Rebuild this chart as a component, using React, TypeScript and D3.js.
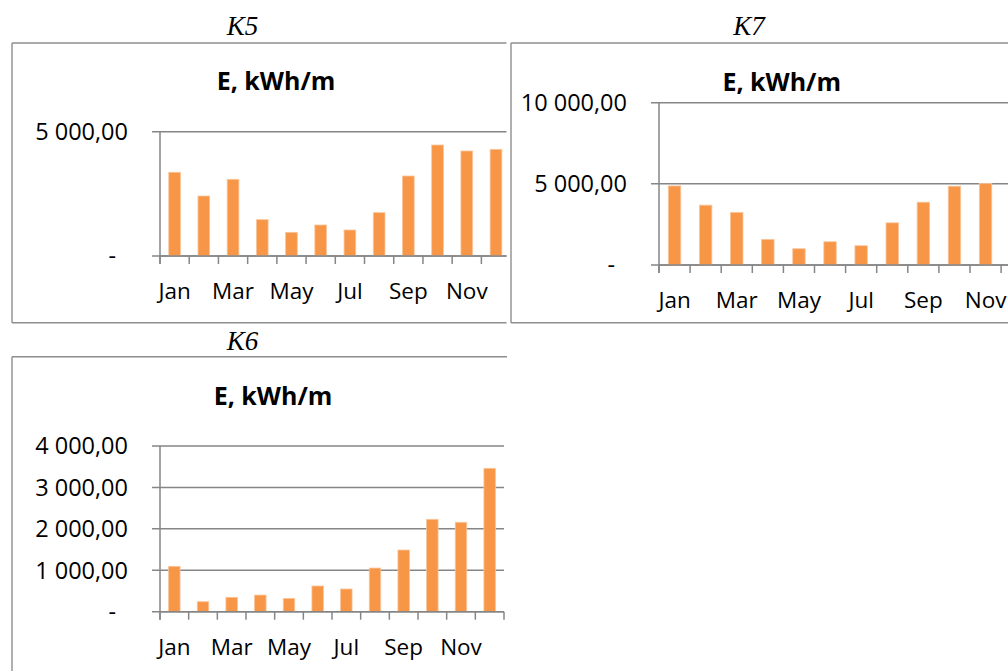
import React from "react";
import * as d3 from "d3";

// Monthly energy per metre for three sites
const months = ["Jan", "Feb", "Mar", "Apr", "May", "Jun", "Jul", "Aug", "Sep", "Oct", "Nov", "Dec"];
const k5Energy = [3367, 2413, 3085, 1461, 952, 1247, 1046, 1743, 3218, 4465, 4224, 4291];
const k7Energy = [4871, 3686, 3237, 1579, 1001, 1431, 1186, 2598, 3870, 4853, 5018, 5150];
const k6Energy = [1095, 241, 347, 402, 322, 620, 548, 1054, 1489, 2230, 2158, 3461];
const k5Ticks = [0, 5000];
const k7Ticks = [0, 5000, 10000];
const k6Ticks = [0, 1000, 2000, 3000, 4000];
const chartTitle = "E, kWh/m";

const BAR = "#F79646";
const BAR_EDGE = "#FBC49A";
const GRID = "#868686";
const FRAME = "#8E8E8E";
const SANS = "'Open Sans', 'Noto Sans', sans-serif";
const SERIF = "'Liberation Serif', 'DejaVu Serif', serif";

const locale = d3.formatLocale({ decimal: ",", thousands: "\u00a0", grouping: [3], currency: ["", ""] });
const fmt = locale.format(",.2f");

type PanelProps = {
  id: string;
  caption: string;
  values: number[];
  ticks: number[];
  frame: { x: number; y: number; right: number; bottom?: number };
  captionPos: { x: number; y: number };
  titlePos: { x: number; y: number };
  plot: { left: number; right: number; top: number; bottom: number };
  clipRight?: number;
};

function Panel(p: PanelProps) {
  const { plot } = p;
  const x = d3
    .scaleBand<string>()
    .domain(months)
    .range([plot.left, plot.right])
    .paddingInner(0.6)
    .paddingOuter(0.3);
  const step = x.step();
  const y = d3
    .scaleLinear()
    .domain([0, d3.max(p.ticks) as number])
    .range([plot.bottom, plot.top]);
  const clipId = `clip-${p.id}`;
  const labelX = plot.left - 32;
  const fb = p.frame.bottom ?? 700;

  return (
    <g>
      <text
        x={p.captionPos.x}
        y={p.captionPos.y}
        textAnchor="middle"
        fontFamily={SERIF}
        fontStyle="italic"
        fontSize={27}
        fill="#000"
      >
        {p.caption}
      </text>
      {/* chart frame */}
      <line x1={p.frame.x} x2={p.frame.right} y1={p.frame.y} y2={p.frame.y} stroke={FRAME} strokeWidth={1.4} />
      <line x1={p.frame.x} x2={p.frame.x} y1={p.frame.y} y2={fb} stroke={FRAME} strokeWidth={1.4} />
      {p.frame.bottom !== undefined && (
        <line x1={p.frame.x} x2={p.frame.right} y1={fb} y2={fb} stroke={FRAME} strokeWidth={1.4} />
      )}
      <text
        x={p.titlePos.x}
        y={p.titlePos.y}
        textAnchor="middle"
        fontFamily={SANS}
        fontWeight={700}
        fontSize={25}
        fill="#000"
      >
        {chartTitle}
      </text>
      {p.clipRight !== undefined && (
        <defs>
          <clipPath id={clipId}>
            <rect x={0} y={0} width={p.clipRight} height={700} />
          </clipPath>
        </defs>
      )}
      <g clipPath={p.clipRight !== undefined ? `url(#${clipId})` : undefined}>
        {/* horizontal gridlines with left tick marks */}
        {p.ticks.map((t) => (
          <line
            key={`g${t}`}
            x1={plot.left - 8}
            x2={plot.right}
            y1={y(t)}
            y2={y(t)}
            stroke={GRID}
            strokeWidth={1.5}
          />
        ))}
        {/* bars */}
        {p.values.map((v, i) => (
          <rect
            key={`b${i}`}
            x={x(months[i]) as number}
            y={y(v)}
            width={x.bandwidth()}
            height={plot.bottom - y(v)}
            fill={BAR}
            stroke={BAR_EDGE}
            strokeWidth={0.8}
          />
        ))}
        {/* category axis */}
        <line x1={plot.left} x2={plot.right} y1={plot.bottom} y2={plot.bottom} stroke={GRID} strokeWidth={1.5} />
        {d3.range(months.length + 1).map((i) => (
          <line
            key={`t${i}`}
            x1={plot.left + i * step}
            x2={plot.left + i * step}
            y1={plot.bottom}
            y2={plot.bottom + 8}
            stroke={GRID}
            strokeWidth={1.5}
          />
        ))}
        {/* value axis */}
        <line x1={plot.left} x2={plot.left} y1={plot.top} y2={plot.bottom + 8} stroke={GRID} strokeWidth={1.5} />
      </g>
      {p.ticks.map((t) => (
        <text
          key={`l${t}`}
          x={t === 0 ? labelX - 12 : labelX}
          y={y(t)}
          dy="0.36em"
          textAnchor="end"
          fontFamily={SANS}
          fontSize={23.5}
          fill="#000"
        >
          {t === 0 ? "-" : fmt(t)}
        </text>
      ))}
      {months.map((m, i) =>
        i % 2 === 0 ? (
          <text
            key={`m${m}`}
            x={(x(m) as number) + x.bandwidth() / 2}
            y={plot.bottom + 43}
            textAnchor="middle"
            fontFamily={SANS}
            fontSize={22.5}
            fill="#000"
          >
            {m}
          </text>
        ) : null
      )}
    </g>
  );
}

export default function App() {
  return (
    <svg
      width={1008}
      height={671}
      style={{ position: "absolute", left: 0, top: 0, background: "#fff" }}
    >
      <rect x={0} y={0} width={1008} height={671} fill="#fff" />
      <Panel
        id="k5"
        caption="K5"
        values={k5Energy}
        ticks={k5Ticks}
        frame={{ x: 12, y: 43, right: 506.5, bottom: 322.7 }}
        captionPos={{ x: 242.5, y: 35 }}
        titlePos={{ x: 276, y: 90 }}
        plot={{ left: 160, right: 510.6, top: 131.7, bottom: 256 }}
        clipRight={506.5}
      />
      <Panel
        id="k7"
        caption="K7"
        values={k7Energy}
        ticks={k7Ticks}
        frame={{ x: 511, y: 43, right: 1008, bottom: 322.7 }}
        captionPos={{ x: 749, y: 35 }}
        titlePos={{ x: 781.7, y: 90.5 }}
        plot={{ left: 659, right: 1032.2, top: 102.7, bottom: 265 }}
      />
      <Panel
        id="k6"
        caption="K6"
        values={k6Energy}
        ticks={k6Ticks}
        frame={{ x: 12, y: 356.7, right: 507 }}
        captionPos={{ x: 242.5, y: 350 }}
        titlePos={{ x: 273, y: 405 }}
        plot={{ left: 160, right: 504, top: 446, bottom: 611.7 }}
      />
    </svg>
  );
}
